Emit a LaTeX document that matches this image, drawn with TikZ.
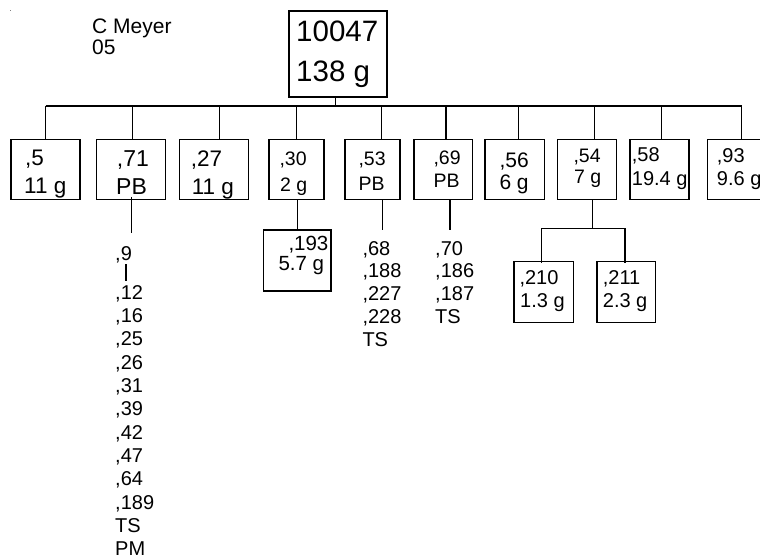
\documentclass[tikz,border=0pt]{standalone}
\usepackage{fontspec}
\setmainfont{Liberation Sans}
\newcommand{\fsz}[1]{\fontsize{#1}{#1}\selectfont}
\begin{document}
\begin{tikzpicture}[x=1pt,y=-1pt,
  box/.style={draw, inner sep=0, line width=1.2pt},
  txt/.style={inner sep=0, anchor=base west},
  wire/.style={line width=1.2pt}]
\useasboundingbox (0,0) rectangle (760,559);
\fill[gray] (9.6,9.6) rectangle (10.9,10.9);

% boxes
\node[box, minimum width=98pt, minimum height=86pt] (top) at (338,54) {};
\foreach \n/\cx/\w in {b1/45.5/69, b2/131.2/69, b3/213.8/69, b4/296.5/55, b5/372.5/55,
  b6/443.35/58.7, b7/514.65/59.3, b8/587/59.4, b9/659.5/59, b10/737.35/59.3}
  {\node[box, minimum width=\w pt, minimum height=60pt] (\n) at (\cx,169.3) {};}
\node[box, minimum width=67.7pt, minimum height=61pt] (b193) at (297.15,260.5) {};
\node[box, minimum width=59.3pt, minimum height=60.6pt] (b210) at (543.65,292) {};
\node[box, minimum width=58.3pt, minimum height=60.6pt] (b211) at (626.15,292) {};

% connectors
\coordinate (bus) at (335.7,106);
\coordinate (busL) at (45.7,106);
\coordinate (busR) at (741.7,106);
\draw[wire] (top.south -| bus) -- (bus);
\draw[wire] (busL) -- (busR);
\foreach \i/\x in {1/45.7, 2/132.7, 3/219.3, 4/296.7, 5/381.7, 6/446, 7/518.7, 8/594.3, 9/661.7, 10/741.7}
  {\coordinate (d\i) at (\x,106); \draw[wire] (d\i) -- (d\i |- b\i.north);}
\coordinate (s2) at (131.7,233.3);
\draw[wire] ([yshift=3pt]s2 |- b2.south) -- (s2);
\draw[wire] (b193.north |- b4.south) -- (b193.north);
\coordinate (s5) at (382.7,230);
\draw[wire] (s5 |- b5.south) -- (s5);
\coordinate (s6) at (450,230);
\draw[wire] (s6 |- b6.south) -- (s6);
\coordinate (s8) at (592.7,228.3);
\draw[wire] (s8 |- b8.south) -- (s8);
\coordinate (h1) at (541.7,228.3);
\coordinate (h2) at (625,228.3);
\draw[wire] (h1) -- (h2);
\draw[wire] (h1) -- ([yshift=-2pt]h1 |- b210.north);
\draw[wire] (h2) -- ([yshift=-2pt]h2 |- b211.north);
\coordinate (v9a) at (126,264.3);
\coordinate (v9b) at (126,281);
\draw[wire] (v9a) -- (v9b);

% texts
\node[txt, font=\fsz{29.5}] (t0a) at (296,41.7) {10047};
\node[txt, font=\fsz{29.5}] (t0b) at (296,81.7) {138 g};
\node[txt, font=\fsz{21}] (cm1) at (92,33.3) {C Meyer};
\node[txt, font=\fsz{21}] (cm2) at (92,55) {05};
\node[txt, font=\fsz{22.5}] (t1a) at (25,165) {,5};
\node[txt, font=\fsz{22.5}] (t1b) at (24,193.3) {11 g};
\node[txt, font=\fsz{23}] (t2a) at (116.7,166.7) {,71};
\node[txt, font=\fsz{23}] (t2b) at (116,194) {PB};
\node[txt, font=\fsz{22.5}] (t3a) at (190.7,166.7) {,27};
\node[txt, font=\fsz{22.5}] (t3b) at (191.7,194) {11 g};
\node[txt, font=\fsz{19.5}] (t4a) at (279.3,165.7) {,30};
\node[txt, font=\fsz{19.5}] (t4b) at (280,191.7) {2 g};
\node[txt, font=\fsz{19.5}] (t5a) at (358.3,165) {,53};
\node[txt, font=\fsz{19.5}] (t5b) at (358.3,190) {PB};
\node[txt, font=\fsz{19.5}] (t6a) at (433.3,164.3) {,69};
\node[txt, font=\fsz{19.5}] (t6b) at (433.3,187.3) {PB};
\node[txt, font=\fsz{21}] (t7a) at (499.3,167.5) {,56};
\node[txt, font=\fsz{21}] (t7b) at (499.3,189.5) {6 g};
\node[txt, font=\fsz{19.5}] (t8a) at (573.3,162.7) {,54};
\node[txt, font=\fsz{19.5}] (t8b) at (574,183.3) {7 g};
\node[txt, font=\fsz{20}] (t9a) at (631.7,161.7) {,58};
\node[txt, font=\fsz{20}] (t9b) at (631.7,185) {19.4 g};
\node[txt, font=\fsz{20}] (t10a) at (716.7,162.3) {,93};
\node[txt, font=\fsz{20}] (t10b) at (716.7,185) {9.6 g};
\node[txt, font=\fsz{20.5}] (t193a) at (288.3,250) {,193};
\node[txt, font=\fsz{20.5}] (t193b) at (278.3,270) {5.7 g};
\node[txt, font=\fsz{20}] (t210a) at (519.3,284) {,210};
\node[txt, font=\fsz{20}] (t210b) at (520,307.3) {1.3 g};
\node[txt, font=\fsz{20}] (t211a) at (602.7,284) {,211};
\node[txt, font=\fsz{20}] (t211b) at (602.7,307.3) {2.3 g};

% lists
\node[txt, font=\fsz{20}] (p9) at (115,260) {,9};
\foreach \s [count=\k from 0] in {{,12},{,16},{,25},{,26},{,31},{,39},{,42},{,47},{,64},{,189},TS,PM}
  {\node[txt, font=\fsz{20}] (p\k) at (115,299.3+23.3*\k) {\s};}
\foreach \s [count=\k from 0] in {{,68},{,188},{,227},{,228},TS}
  {\node[txt, font=\fsz{20}] (q\k) at (362.3,255+22.9*\k) {\s};}
\foreach \s [count=\k from 0] in {{,70},{,186},{,187},TS}
  {\node[txt, font=\fsz{20}] (r\k) at (435,255+22.8*\k) {\s};}
\end{tikzpicture}
\end{document}
